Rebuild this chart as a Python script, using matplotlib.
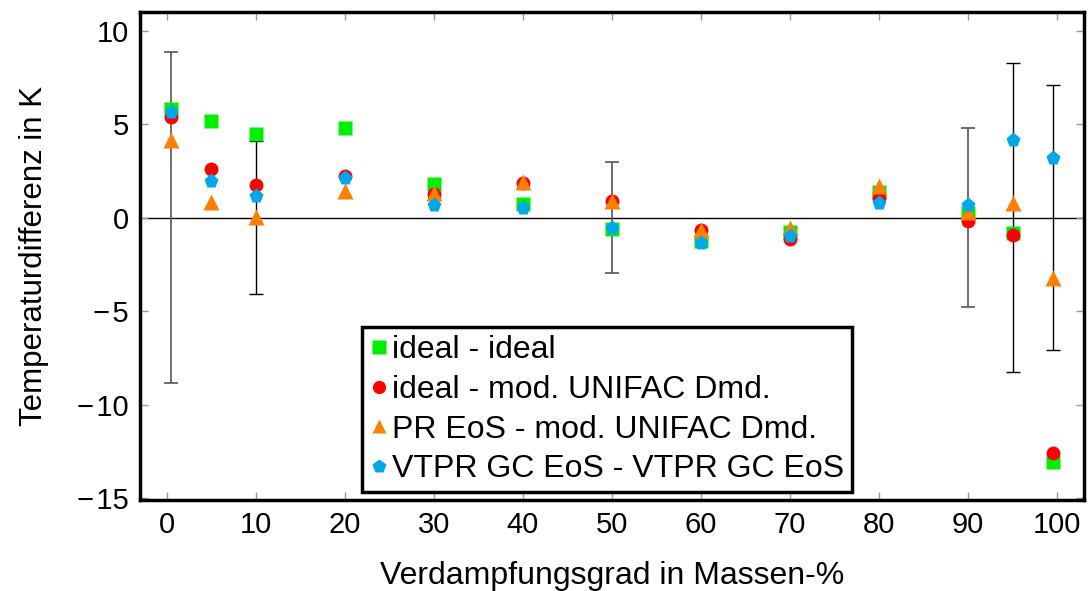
import numpy as np
import matplotlib.pyplot as plt

plt.rcParams['font.family'] = ['Liberation Sans', 'DejaVu Sans']

x = [0.5, 5, 10, 20, 30, 40, 50, 60, 70, 80, 90, 95, 99.5]
ideal_ideal = [5.8, 5.15, 4.5, 4.8, 1.8, 0.75, -0.58, -1.27, -0.75, 1.35, 0.25, -0.8, -13.05]
ideal_unifac = [5.4, 2.6, 1.75, 2.25, 1.25, 1.85, 0.87, -0.68, -1.15, 1.05, -0.2, -0.92, -12.6]
pr_unifac = [4.15, 0.85, 0.05, 1.4, 1.3, 1.9, 0.9, -0.65, -0.55, 1.7, 0.3, 0.8, -3.25]
vtpr_vtpr = [5.67, 1.95, 1.18, 2.1, 0.7, 0.5, -0.55, -1.34, -0.96, 0.8, 0.7, 4.17, 3.2]

# error bars (centered at zero)
err_x_gray = [0.5, 50, 90]
err_y_gray = [8.85, 2.97, 4.8]
err_x_black = [10, 95, 99.5]
err_y_black = [4.1, 8.25, 7.1]

fig = plt.figure(figsize=(10.88, 5.91), dpi=100)
ax = fig.add_axes([0.1287, 0.154, 0.8676, 0.8257])

ax.axhline(0, color='black', lw=1.0, zorder=1)
ax.errorbar(err_x_gray, np.zeros(len(err_x_gray)), yerr=err_y_gray, fmt='none',
            ecolor='#555555', elinewidth=1.2, capsize=5, capthick=1.2, zorder=2)
ax.errorbar(err_x_black, np.zeros(len(err_x_black)), yerr=err_y_black, fmt='none',
            ecolor='black', elinewidth=1.0, capsize=5, capthick=1.0, zorder=2)

ms = 10
ax.plot(x, ideal_ideal, 's', color='#00ee00', ms=ms, mec='none', label='ideal - ideal', zorder=3)
ax.plot(x, ideal_unifac, 'o', color='#ff0000', ms=ms, mec='none', label='ideal - mod. UNIFAC Dmd.', zorder=4)
ax.plot(x, pr_unifac, '^', color='#ff8000', ms=ms + 1, mec='none', label='PR EoS - mod. UNIFAC Dmd.', zorder=5)
ax.plot(x, vtpr_vtpr, 'p', color='#00a8e8', ms=ms + 1, mec='none', label='VTPR GC EoS - VTPR GC EoS', zorder=6)

ax.set_xlim(-3, 103)
ax.set_ylim(-15.1, 11)
ax.set_xticks([0, 10, 20, 30, 40, 50, 60, 70, 80, 90, 100])
ax.set_yticks([-15, -10, -5, 0, 5, 10])
ax.set_yticklabels(['\u2212\u200a15', '\u2212\u200a10', '\u2212\u200a5', '0', '5', '10'])
ax.tick_params(direction='in', length=6, width=1, color='#999999', labelsize=21,
               top=True, right=True, pad=8)
for s in ax.spines.values():
    s.set_linewidth(2.5)

ax.set_xlabel('Verdampfungsgrad in Massen-%', fontsize=23, labelpad=16)
ax.set_ylabel('Temperaturdifferenz in K', fontsize=22.5, labelpad=20)

leg = ax.legend(loc='lower left', bbox_to_anchor=(0.235, 0.016), fontsize=23,
                fancybox=False, framealpha=1, edgecolor='black', handlelength=0.6,
                handletextpad=0.1, borderpad=0.25, labelspacing=0.3, borderaxespad=0,
                markerscale=0.95)
leg.get_frame().set_linewidth(2.5)

plt.savefig('out.png', dpi=100)
